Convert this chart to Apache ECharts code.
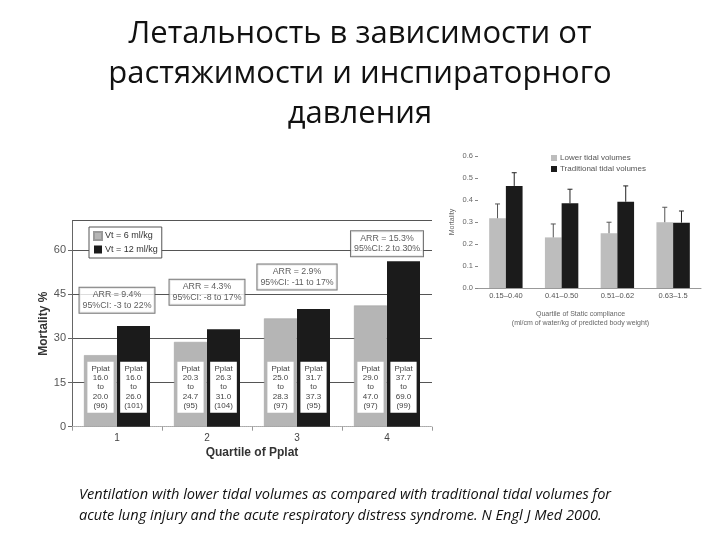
<!DOCTYPE html>
<html>
<head>
<meta charset="utf-8">
<script src="https://cdn.jsdelivr.net/npm/echarts@6/dist/echarts.min.js"></script>
<style>
  html, body { margin: 0; padding: 0; background: #fff; }
  #chart { width: 720px; height: 540px; }
</style>
</head>
<body>
<div id="chart"></div>
<script>
  // main chart: mortality by quartile of plateau pressure
  const quartiles = ['1', '2', '3', '4'];
  const mortalityLow = [24.3, 28.8, 36.8, 41.2];
  const mortalityHigh = [34.2, 33.1, 40.0, 56.2];
  const pplatLowFrom = ['16.0', '20.3', '25.0', '29.0'];
  const pplatLowTo = ['20.0', '24.7', '28.3', '47.0'];
  const nLow = [96, 95, 97, 97];
  const pplatHighFrom = ['16.0', '26.3', '31.7', '37.7'];
  const pplatHighTo = ['26.0', '31.0', '37.3', '69.0'];
  const nHigh = [101, 104, 95, 99];
  const arr = [9.4, 4.3, 2.9, 15.3];
  const ciLow = [-3, -8, -11, 2];
  const ciHigh = [22, 17, 17, 30];
  const mainTicks = [0, 15, 30, 45, 60];

  // inset chart: mortality by quartile of static compliance
  const complianceQuartiles = ['0.15–0.40', '0.41–0.50', '0.51–0.62', '0.63–1.5'];
  const compLow = [0.317, 0.23, 0.249, 0.299];
  const compHigh = [0.464, 0.385, 0.392, 0.297];
  const compLowUpper = [0.382, 0.291, 0.299, 0.367];
  const compHighUpper = [0.524, 0.449, 0.464, 0.35];
  const compTicks = [0, 0.1, 0.2, 0.3, 0.4, 0.5, 0.6];

  const titleText = 'Летальность в зависимости от\nрастяжимости и инспираторного\nдавления';
  const captionText = 'Ventilation with lower tidal volumes as compared with traditional tidal volumes for\n' +
    'acute lung injury and the acute respiratory distress syndrome. N Engl J Med 2000.';

  const GRAY = '#b5b5b5';
  const BLACK = '#1b1b1b';
  const smallBarW = 16.7;
  // where the ARR boxes sit (value on the mortality axis)
  const arrBoxY = [43, 45.7, 50.9, 62.2];

  function errorBars(upper, base, side, color) {
    return {
      type: 'custom',
      xAxisIndex: 1,
      yAxisIndex: 1,
      silent: true,
      z: 5,
      data: upper.map((u, i) => [i, base[i], u]),
      renderItem: function (params, api) {
        const bottom = api.coord([api.value(0), api.value(1)]);
        const top = api.coord([api.value(0), api.value(2)]);
        const x = bottom[0] + side * smallBarW / 2;
        const style = { stroke: color, lineWidth: 1 };
        return {
          type: 'group',
          children: [
            { type: 'line', shape: { x1: x, y1: bottom[1], x2: x, y2: top[1] }, style: style },
            { type: 'line', shape: { x1: x - 2.5, y1: top[1], x2: x + 2.5, y2: top[1] }, style: style }
          ]
        };
      }
    };
  }

  const chart = echarts.init(document.getElementById('chart'));
  chart.setOption({
    animation: false,
    textStyle: { fontFamily: 'Liberation Sans' },
    title: [
      {
        text: titleText,
        left: 355,
        top: 9,
        textAlign: 'center',
        textStyle: { fontFamily: 'Open Sans', fontSize: 31, fontWeight: 'normal', lineHeight: 40, color: '#111' }
      },
      {
        text: captionText,
        left: 74,
        top: 479,
        textStyle: { fontFamily: 'Open Sans', fontStyle: 'italic', fontSize: 14.6, fontWeight: 'normal', lineHeight: 21, color: '#111' }
      }
    ],
    legend: [
      {
        data: ['Vt = 6 ml/kg', 'Vt = 12 ml/kg'],
        orient: 'vertical',
        left: 89,
        top: 227,
        itemWidth: 8,
        itemHeight: 8,
        itemGap: 4,
        padding: [4, 4],
        icon: 'rect',
        backgroundColor: '#fff',
        borderColor: '#555',
        borderWidth: 1,
        textStyle: { fontSize: 9, color: '#333', padding: [0, 0, 0, -2] }
      },
      {
        data: ['Lower tidal volumes', 'Traditional tidal volumes'],
        orient: 'vertical',
        left: 551,
        top: 154,
        itemWidth: 6,
        itemHeight: 6,
        itemGap: 3,
        padding: 0,
        icon: 'rect',
        textStyle: { fontSize: 8, color: '#555', padding: [0, 0, 0, -2] }
      }
    ],
    grid: [
      { left: 72, right: 288, top: 220.7, bottom: 113.3 },
      { left: 478, right: 19, top: 156, bottom: 252 }
    ],
    xAxis: [
      {
        type: 'category',
        gridIndex: 0,
        data: quartiles,
        name: 'Quartile of Pplat',
        nameLocation: 'middle',
        nameGap: 20,
        nameTextStyle: { fontSize: 12, fontWeight: 'bold', color: '#333' },
        axisLine: { lineStyle: { color: '#aaa', type: 'dotted' } },
        axisTick: { show: true, length: 4, lineStyle: { color: '#999' } },
        axisLabel: { fontSize: 10, color: '#444', margin: 7 }
      },
      {
        type: 'category',
        gridIndex: 1,
        data: complianceQuartiles,
        name: 'Quartile of Static compliance\n(ml/cm of water/kg of predicted body weight)',
        nameLocation: 'middle',
        nameGap: 22,
        nameTextStyle: { fontSize: 7, color: '#666', lineHeight: 9, padding: [0, 18, 0, 0] },
        axisLine: { lineStyle: { color: '#999' } },
        axisTick: { show: false },
        axisLabel: { fontSize: 7.5, color: '#555', margin: 4 }
      }
    ],
    yAxis: [
      {
        type: 'value',
        gridIndex: 0,
        min: mainTicks[0],
        max: 70,
        interval: mainTicks[1] - mainTicks[0],
        name: 'Mortality %',
        nameLocation: 'middle',
        nameGap: 22,
        nameTextStyle: { fontSize: 12, fontWeight: 'bold', color: '#333' },
        axisLine: { show: true, lineStyle: { color: '#666' } },
        axisTick: { show: true, length: 4, lineStyle: { color: '#666' } },
        axisLabel: { fontSize: 11, color: '#555', margin: 6, showMaxLabel: false },
        splitLine: {
          show: true,
          lineStyle: { color: ['#ccc', '#555', '#555', '#555', '#555', '#555'], width: 1 }
        }
      },
      {
        type: 'value',
        gridIndex: 1,
        min: compTicks[0],
        max: compTicks[compTicks.length - 1],
        interval: 0.1,
        name: 'Mortality',
        nameLocation: 'middle',
        nameGap: 22,
        nameTextStyle: { fontSize: 7, color: '#666' },
        axisLine: { show: false },
        axisTick: { show: true, length: 3, lineStyle: { color: '#888' } },
        axisLabel: { fontSize: 7.5, color: '#666', margin: 5, formatter: v => v.toFixed(1) },
        splitLine: { show: false }
      }
    ],
    series: [
      {
        name: 'Vt = 6 ml/kg',
        type: 'bar',
        xAxisIndex: 0,
        yAxisIndex: 0,
        data: mortalityLow,
        barWidth: 33,
        barGap: '0%',
        itemStyle: { color: GRAY, borderColor: '#9a9a9a', borderWidth: 0.5 },
        label: {
          show: true,
          position: 'insideBottom',
          distance: 14,
          backgroundColor: '#fff',
          padding: [2, 4],
          fontSize: 8,
          lineHeight: 9.4,
          color: '#444',
          formatter: p => 'Pplat\n' + pplatLowFrom[p.dataIndex] + '\nto\n' + pplatLowTo[p.dataIndex] + '\n(' + nLow[p.dataIndex] + ')'
        }
      },
      {
        name: 'Vt = 12 ml/kg',
        type: 'bar',
        xAxisIndex: 0,
        yAxisIndex: 0,
        data: mortalityHigh,
        barWidth: 33,
        barGap: '0%',
        itemStyle: { color: BLACK },
        label: {
          show: true,
          position: 'insideBottom',
          distance: 14,
          backgroundColor: '#fff',
          padding: [2, 4],
          fontSize: 8,
          lineHeight: 9.4,
          color: '#444',
          formatter: p => 'Pplat\n' + pplatHighFrom[p.dataIndex] + '\nto\n' + pplatHighTo[p.dataIndex] + '\n(' + nHigh[p.dataIndex] + ')'
        }
      },
      {
        name: 'ARR',
        type: 'scatter',
        xAxisIndex: 0,
        yAxisIndex: 0,
        silent: true,
        symbol: 'rect',
        symbolSize: 1,
        itemStyle: { color: 'rgba(0,0,0,0)' },
        z: 6,
        data: arrBoxY.map((y, i) => [i, y]),
        label: {
          show: true,
          position: 'inside',
          backgroundColor: '#fff',
          borderColor: '#555',
          borderWidth: 1,
          padding: [2, 3],
          fontSize: 8.8,
          lineHeight: 10.5,
          color: '#333',
          align: 'center',
          formatter: p => 'ARR = ' + arr[p.dataIndex] + '%\n95%CI: ' + ciLow[p.dataIndex] + ' to ' + ciHigh[p.dataIndex] + '%'
        }
      },
      {
        name: 'Lower tidal volumes',
        type: 'bar',
        xAxisIndex: 1,
        yAxisIndex: 1,
        data: compLow,
        barWidth: smallBarW,
        barGap: '0%',
        itemStyle: { color: '#bdbdbd' }
      },
      {
        name: 'Traditional tidal volumes',
        type: 'bar',
        xAxisIndex: 1,
        yAxisIndex: 1,
        data: compHigh,
        barWidth: smallBarW,
        barGap: '0%',
        itemStyle: { color: BLACK }
      },
      errorBars(compLowUpper, compLow, -1, '#555'),
      errorBars(compHighUpper, compHigh, 1, '#222')
    ]
  });
</script>
</body>
</html>
